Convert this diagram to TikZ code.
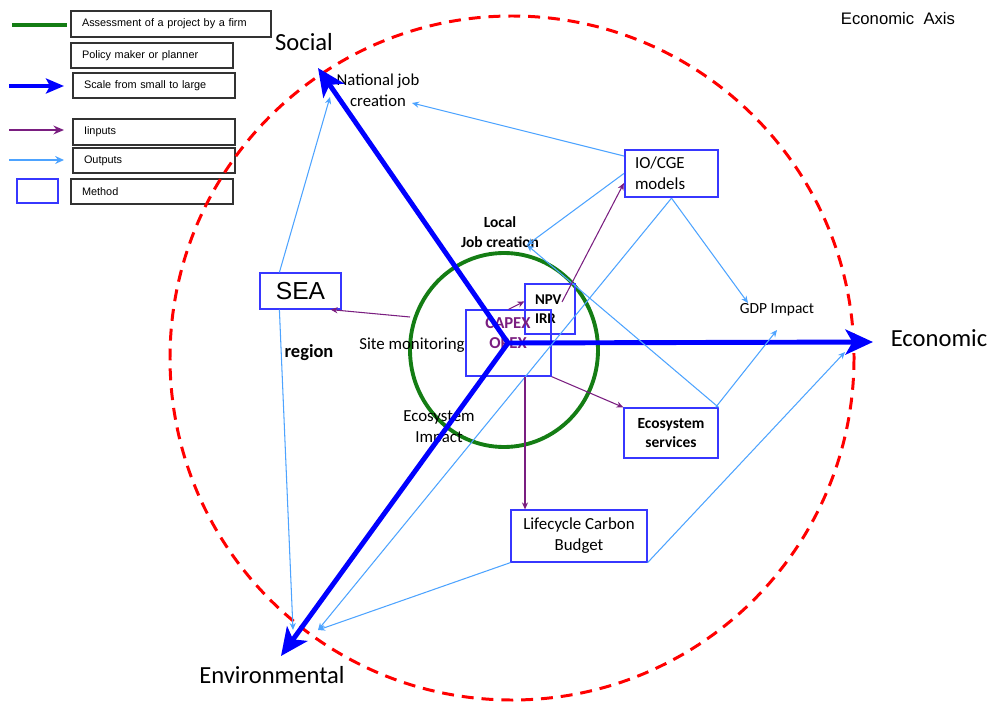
\documentclass[tikz,border=0pt]{standalone}
\usepackage{fontspec}
\setmainfont{Carlito}
\newfontfamily\arialfont{Liberation Sans}
\usetikzlibrary{arrows.meta}

\definecolor{axisblue}{RGB}{0,0,255}
\definecolor{outblue}{RGB}{77,163,255}
\definecolor{inpurple}{RGB}{122,30,128}
\definecolor{boxblue}{RGB}{55,55,255}
\definecolor{firmgreen}{RGB}{20,125,20}
\definecolor{leggray}{RGB}{50,50,50}

\begin{document}
    \begin{tikzpicture}[x=0.02cm, y=-0.02cm,
        axis/.style={axisblue, line width=2.8pt, -{Stealth[length=0.55cm,width=0.5cm,inset=0.14cm]}},
        output/.style={outblue, line width=0.6pt, -{Stealth[length=4pt,width=3.5pt]}},
        input/.style={inpurple, line width=0.6pt, -{Stealth[length=4pt,width=3.5pt]}},
        method/.style={draw=boxblue, line width=0.7pt, inner sep=0pt, align=center, font=\fontsize{9.6}{12}\selectfont},
        legbox/.style={draw=leggray, line width=0.6pt, minimum height=0.5cm, inner xsep=0.22cm, inner ysep=0pt, align=left, font=\arialfont\fontsize{6.2}{7}\selectfont},
        lbl/.style={align=center, inner sep=0pt, font=\fontsize{9.6}{12}\selectfont},
        axislbl/.style={inner sep=0pt, font=\fontsize{14}{16}\selectfont}]
        \useasboundingbox (0,0) rectangle (996,709);

        % legend
        \draw[firmgreen, line width=2.3pt] (12,25) -- (67,25);
        \draw[axis, -{Stealth[length=0.36cm,width=0.3cm,inset=0.08cm]}] (9,86) -- (64,86);
        \draw[inpurple, line width=1.7pt, -{Stealth[length=6pt,width=5pt]}] (9,130) -- (64,130);
        \draw[outblue, line width=1.1pt, -{Stealth[length=5pt,width=4.5pt]}] (9,160) -- (64,160);
        \node[method, minimum width=0.82cm, minimum height=0.48cm] (methsample) at (37.5,191) {};
        \node[legbox, text width=3.56cm, minimum height=0.52cm] (legfirm) at (171,24) {Assessment of a project by a firm};
        \node[legbox, text width=2.8cm] (legpolicy) at (152,55.5) {Policy maker or planner};
        \node[legbox, text width=2.8cm] (legscale) at (154,85.5) {Scale from small to large};
        \node[legbox, text width=2.8cm, minimum height=0.52cm] (leginputs) at (154,132) {\raisebox{-2pt}{Iinputs}};
        \node[legbox, text width=2.8cm] (legoutputs) at (154,160.5) {\raisebox{-1pt}{Outputs}};
        \node[legbox, text width=2.8cm] (legmethod) at (152,191.5) {Method};

        \node[inner sep=0pt, font=\arialfont\fontsize{9.5}{11}\selectfont] (econaxis) at (898,19) {Economic\ \ Axis};

        % circles
        \draw[red, line width=1.7pt, dash pattern=on 6.8pt off 4.5pt] (512,358) circle (342);
        \draw[firmgreen, line width=2.2pt] (504,350) ellipse [x radius=94, y radius=97];

        % axes
        \coordinate (origin) at (508,343);
        \coordinate (socialtip) at (318,68);
        \coordinate (econtip) at (873,342);
        \coordinate (envtip) at (281,656);
        \node[axislbl] (social) at (304,42) {Social};
        \node[axislbl] (economic) at (939,338) {Economic};
        \node[axislbl] (environmental) at (272,675) {Environmental};

        % methods
        \node[method, minimum width=1.62cm, minimum height=0.72cm, font=\arialfont\fontsize{14}{16}\selectfont] (sea) at (300.5,291) {SEA};
        \node[method, line width=1.3pt, text width=1.46cm, minimum height=0.94cm, inner xsep=0.2cm, align=left, font=\fontsize{9.6}{12}\selectfont] (iocge) at (671.5,173.5) {IO/CGE\\models};
        \node[method, text width=0.6cm, minimum height=1cm, inner xsep=0.2cm, align=left, font=\bfseries\fontsize{8.5}{11}\selectfont] (npv) at (550,309) {NPV\\IRR};
        \node[method, minimum width=1.7cm, minimum height=1.32cm] (capex) at (508.5,343) {};
        \node[lbl, text=inpurple, font=\bfseries\fontsize{9.5}{11.3}\selectfont] (capextxt) at (508,333) {CAPEX\\OPEX};
        \node[method, minimum width=1.88cm, minimum height=1cm, font=\bfseries\fontsize{8.8}{11}\selectfont] (ecoserv) at (671,433) {Ecosystem\\services};
        \node[method, minimum width=2.72cm, minimum height=1.04cm] (lca) at (579,536) {Lifecycle Carbon\\Budget};

        % labels
        \node[lbl, font=\fontsize{9.5}{12}\selectfont] (natjob) at (378,90) {National job\\creation};
        \node[lbl, font=\bfseries\fontsize{8.8}{11.3}\selectfont] (localjob) at (500,232) {Local\\Job creation};
        \node[lbl] (sitemon) at (412,345) {Site monitoring};
        \node[lbl, font=\bfseries\fontsize{10.5}{12}\selectfont] (region) at (309,353) {region};
        \node[lbl] (ecoimpact) at (439,428) {Ecosystem\\Impact};
        \node[lbl, font=\fontsize{8.8}{11}\selectfont] (gdp) at (777,310) {GDP Impact};

        \draw[axis] (origin) -- (socialtip);
        \draw[axis] (origin) -- (econtip);
        \draw[axis] (origin) -- (envtip);

        % outputs
        \coordinate (socin) at (330,97);
        \coordinate (envin) at (293,630);
        \coordinate (envin2) at (318,630);
        \coordinate (natin) at (412,103);
        \coordinate (locin) at (527,245);
        \coordinate (gdpin) at (748,303);
        \coordinate (gdpin2) at (777,330);
        \coordinate (econin) at (845,352);
        \draw[output] ([xshift=0.4cm]sea.north west) -- (socin);
        \draw[output] ([xshift=0.4cm]sea.south west) -- (envin);
        \draw[output] ([yshift=0.35cm]iocge.west) -- (natin);
        \draw[output] (iocge.west) -- (locin);
        \draw[output] (ecoserv.north east) -- (locin);
        \draw[output] (iocge.south) -- (gdpin);
        \draw[output] (iocge.south) -- (envin2);
        \draw[output] (lca.south west) -- (envin2);
        \draw[output] (lca.south east) -- (econin);
        \draw[output] ([xshift=-0.06cm]ecoserv.north east) -- (gdpin2);

        % inputs
        \coordinate (siteout) at (410,317);
        \draw[input] (siteout) -- ([xshift=-0.22cm]sea.south east);
        \draw[input] (capex.north) -- ([yshift=-0.36cm]npv.north west);
        \draw[input] ([xshift=0.24cm,yshift=0.14cm]npv.center) -- ([yshift=0.3cm]iocge.south west);
        \draw[input] (capex.south east) -- (ecoserv.north west);
        \draw[input] ([xshift=0.33cm]capex.south) -- ([xshift=0.33cm]capex.south |- lca.north);
    \end{tikzpicture}
\end{document}
